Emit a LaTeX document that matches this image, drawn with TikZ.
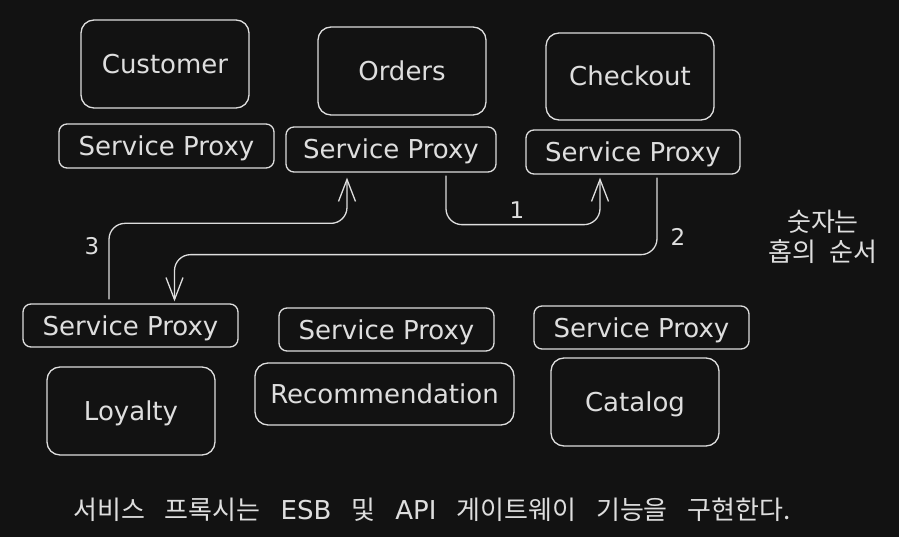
\documentclass[tikz,border=0pt]{standalone}
\usepackage{fontspec}
\setmainfont{DejaVu Sans}
\newfontfamily\kr[WordSpace=2.3]{Noto Sans CJK KR}
\newfontfamily\lat{DejaVu Sans}
\newcommand\wgap{\hspace{20pt}}
\usetikzlibrary{arrows.meta}
\definecolor{bg}{HTML}{121212}
\definecolor{fg}{HTML}{DEDEDE}
\tikzset{
  box/.style={draw=fg, line width=1.3pt, rounded corners=13pt, text=fg, inner sep=0pt,
    font=\fontsize{26}{30}\selectfont, text height=19pt, text depth=0pt},
  proxy/.style={box, rounded corners=8pt, minimum width=215pt, minimum height=44pt},
  svc/.style={box, minimum width=168pt, minimum height=88pt},
  conn/.style={draw=fg, line width=1.3pt, rounded corners=16pt,
    -{Straight Barb[length=22pt,width=17pt,line width=1.3pt]}},
  lbl/.style={text=fg, font=\fontsize{23}{26}\selectfont},
  note/.style={text=fg, font=\kr\fontsize{26}{30}\selectfont}
}
\begin{document}
\begin{tikzpicture}[x=1pt,y=-1pt]
\fill[bg] (0,0) rectangle (899,537);
\useasboundingbox (0,0) rectangle (899,537);
% services
\node[svc] (cus) at (165,64) {Customer};
\node[proxy] (spcu) at (166.5,146) {Service Proxy};
\node[svc] (ord) at (402,71) {Orders};
\node[proxy, minimum width=210pt, minimum height=45pt] (spo) at (391,149.5) {Service Proxy};
\node[svc, minimum height=87pt] (chk) at (630,76.5) {Checkout};
\node[proxy, minimum width=214pt] (spc) at (633,152) {Service Proxy};
\node[proxy, minimum height=43pt] (spl) at (130.5,325.5) {Service Proxy};
\node[svc] (loy) at (131,411) {Loyalty};
\node[proxy, minimum height=43pt] (spr) at (386.5,329.5) {Service Proxy};
\node[svc, minimum width=259pt, minimum height=62pt] (rec) at (384.5,394) {Recommendation};
\node[proxy, minimum height=43pt] (spk) at (641.5,327.5) {Service Proxy};
\node[svc] (cat) at (635,402) {Catalog};
% connectors
\draw[conn, shorten <=3pt, shorten >=3pt] ([xshift=55pt]spo.south) -- ++(0,52) -| ([xshift=-33pt]spc.south);
\draw[conn, shorten <=3pt, shorten >=2pt] ([xshift=24pt]spc.south) -- ++(0,80) -| ([xshift=44pt]spl.north);
\draw[conn, shorten <=4pt, shorten >=5pt] ([xshift=-21.5pt]spl.north) -- ++(0,-80) -| ([xshift=-44pt]spo.south);
% labels
\node[lbl] (l1) at (517,210) {1};
\node[lbl] (l2) at (678,237) {2};
\node[lbl] (l3) at (92,246) {3};
\node[note, align=center] (n1) at (823,237) {숫자는\\홉의 순서};
\node[note] (n2) at (432,510) {서비스\wgap 프록시는\wgap{\lat ESB}\wgap 및\wgap{\lat API}\wgap 게이트웨이\wgap 기능을\wgap 구현한다.};
\end{tikzpicture}
\end{document}
